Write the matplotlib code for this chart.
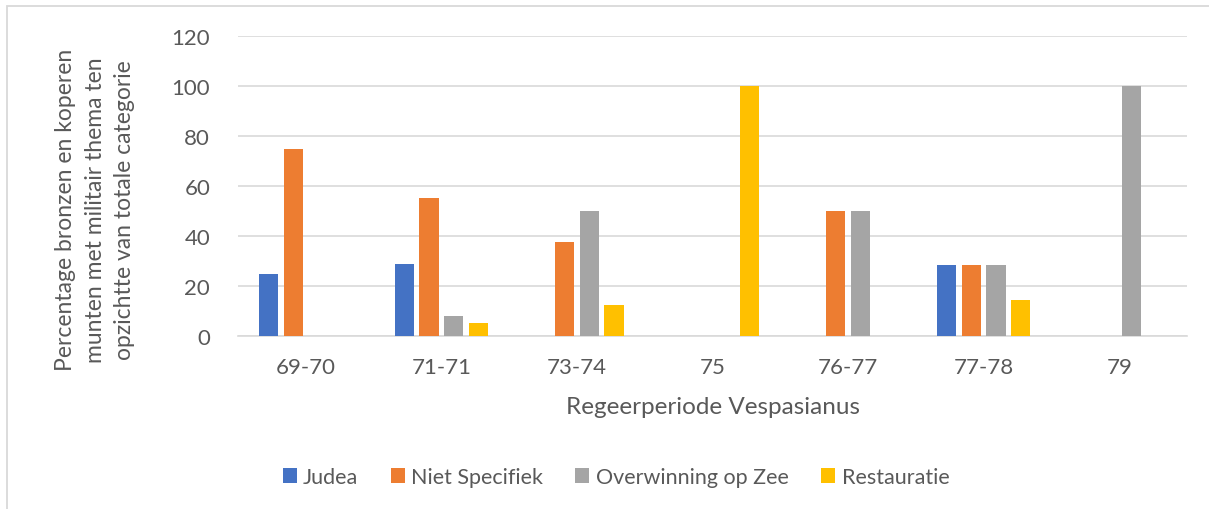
import numpy as np
import matplotlib.pyplot as plt
from matplotlib.patches import Rectangle

periods = ['69-70', '71-71', '73-74', '75', '76-77', '77-78', '79']
judea = [25, 28.9, 0, 0, 0, 28.6, 0]
niet_specifiek = [75, 55.3, 37.5, 0, 50, 28.6, 0]
overwinning = [0, 7.9, 50, 0, 50, 28.6, 100]
restauratie = [0, 5.3, 12.5, 100, 0, 14.3, 0]

series = [('Judea', judea, '#4472C4'),
          ('Niet Specifiek', niet_specifiek, '#ED7D31'),
          ('Overwinning op Zee', overwinning, '#A5A5A5'),
          ('Restauratie', restauratie, '#FFC000')]

txt = '#595959'
plt.rcParams['font.family'] = ['Lato', 'DejaVu Sans']

fig = plt.figure(figsize=(12.09, 5.10), dpi=100)
ax = fig.add_axes([238/1209, 1-337/510, (1187-238)/1209, 300/510])

# chart frame (only left and top edge visible in the crop)
fig.patches.append(Rectangle((7/1209, -0.1), 1.2, 1-7/510+0.1, transform=fig.transFigure,
                             fill=False, edgecolor='#D9D9D9', linewidth=1.3))

x = np.arange(len(periods))
step = 0.182
for i, (name, vals, col) in enumerate(series):
    ax.bar(x + (i-1.5)*step, vals, width=0.143, color=col, label=name, zorder=3)

ax.set_xlim(-0.5, 6.5)
ax.set_ylim(0, 120)
ax.set_yticks(range(0, 121, 20))
ax.set_xticks(x)
ax.set_xticklabels(periods)
ax.grid(axis='y', color='#D9D9D9', linewidth=1.2, zorder=0)
for s in ['top', 'right', 'left']:
    ax.spines[s].set_visible(False)
ax.spines['bottom'].set_color('#D9D9D9')
ax.spines['bottom'].set_linewidth(1.2)
ax.tick_params(axis='both', length=0, labelsize=16, colors=txt)
ax.tick_params(axis='y', pad=20)
ax.tick_params(axis='x', pad=15)

ax.set_xlabel('Regeerperiode Vespasianus', fontsize=17.5, color=txt, labelpad=14)
fig.text(95/1209, 1-210/510,
         'Percentage bronzen en koperen\nmunten met militair thema ten\nopzichtte van totale categorie',
         rotation=90, ha='center', va='center', fontsize=16.5, color=txt,
         multialignment='center', linespacing=1.5)

fig.legend(loc='center', bbox_to_anchor=(616/1209, 1-478/510), ncol=4, frameon=False,
           fontsize=15.5, labelcolor=txt, handlelength=0.65, handleheight=0.65,
           handletextpad=0.3, columnspacing=1.5)

fig.savefig('out.png', dpi=100)
